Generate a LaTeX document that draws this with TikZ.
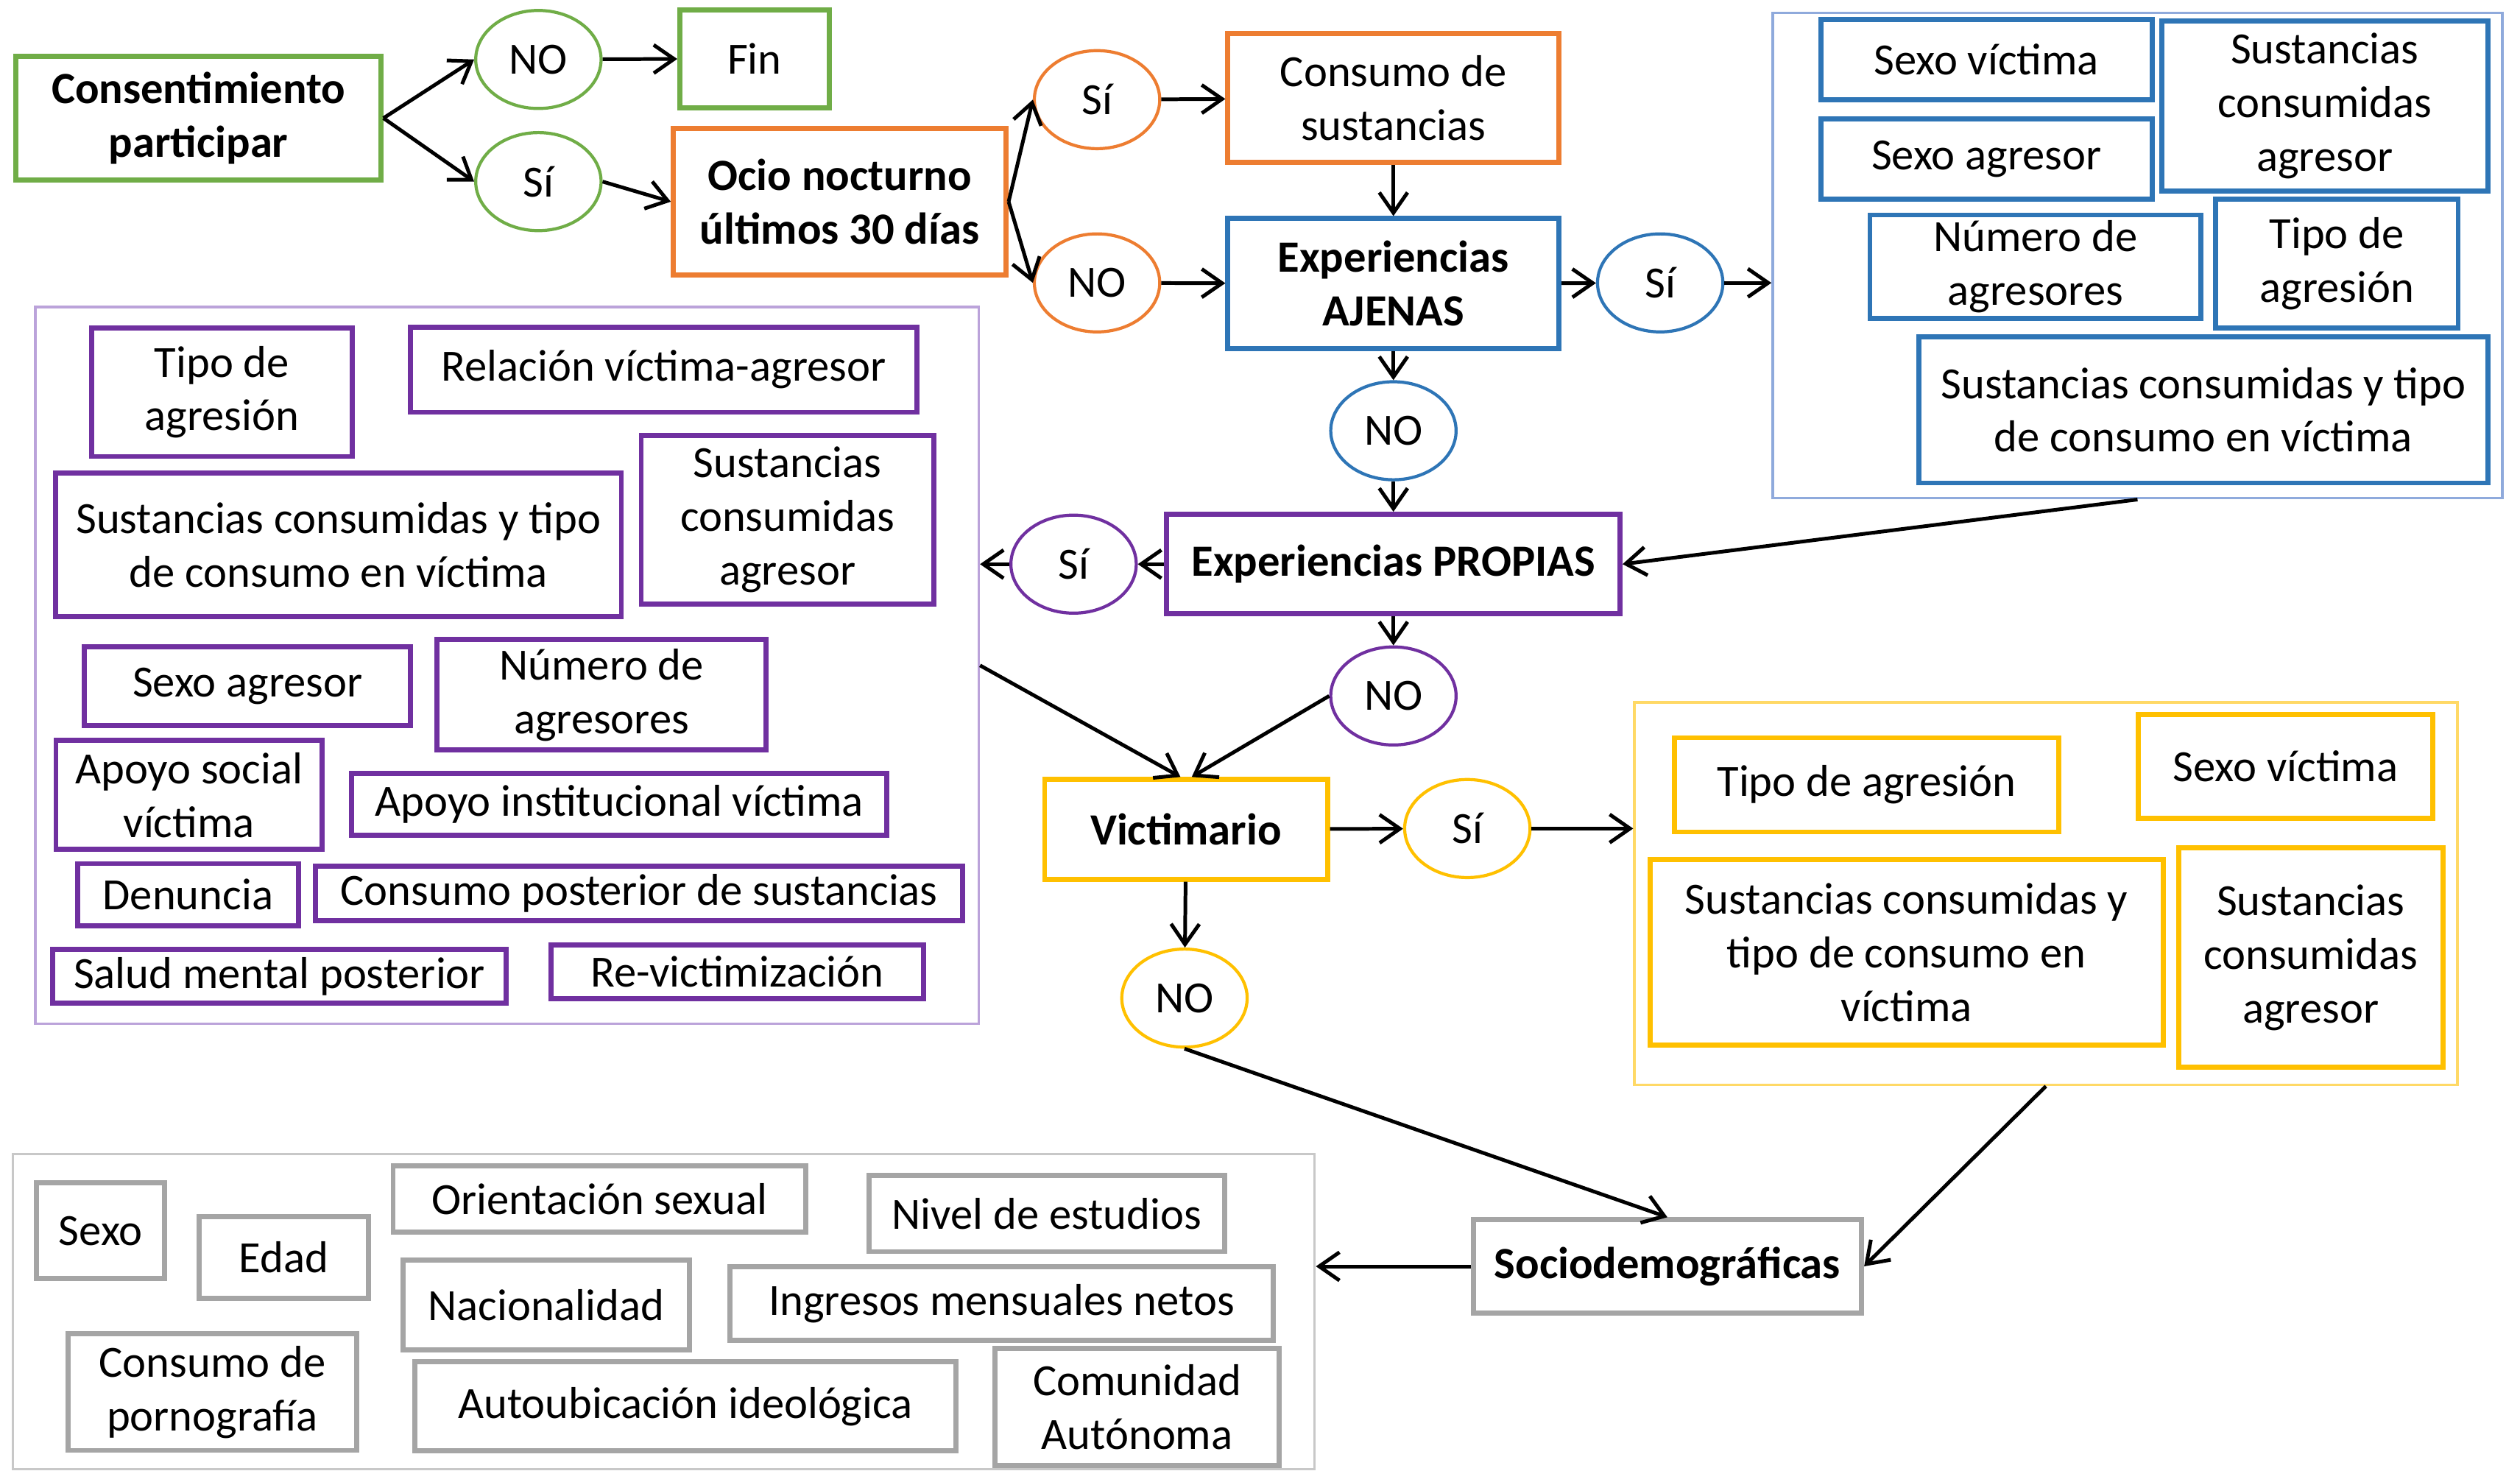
\documentclass[tikz,border=0pt]{standalone}
\usepackage{fontspec}
\setmainfont{Carlito}
\usetikzlibrary{shapes.geometric,arrows.meta}

\definecolor{cgreen}{HTML}{70AD47}
\definecolor{corange}{HTML}{ED7D31}
\definecolor{cblue}{HTML}{2E75B6}
\definecolor{cbluelight}{HTML}{8FAADC}
\definecolor{cpurple}{HTML}{7030A0}
\definecolor{cpurplelight}{HTML}{BBA3DA}
\definecolor{cyellow}{HTML}{FFC000}
\definecolor{cyellowlight}{HTML}{FFD966}
\definecolor{cgray}{HTML}{A5A5A5}
\definecolor{cgraylight}{HTML}{C8C8C8}

\begin{document}
\begin{tikzpicture}[
    >={Straight Barb[length=3.6pt,width=5pt]},
    every node/.style={font=\fontsize{7.9}{9.5}\selectfont, align=center, inner sep=1pt},
    boldtxt/.style={font=\fontsize{7.9}{9.5}\selectfont\bfseries},
    greenbox/.style={draw=cgreen, line width=0.9pt},
    orangebox/.style={draw=corange, line width=0.9pt},
    bluebox/.style={draw=cblue, line width=0.9pt},
    purplebox/.style={draw=cpurple, line width=0.9pt},
    yellowbox/.style={draw=cyellow, line width=0.9pt},
    graybox/.style={draw=cgray, line width=0.9pt},
    oval/.style={ellipse, line width=0.55pt, minimum width=0.78cm, minimum height=0.61cm, inner sep=0pt},
    holder/.style={line width=0.45pt},
    link/.style={->, line width=0.65pt}
]

    \useasboundingbox (0,0) rectangle (15.68,-9.15);

    \node[greenbox, boldtxt, minimum width=2.27cm, minimum height=0.77cm] (consent) at (1.235,-0.735) {Consentimiento\\participar};
    \node[oval, draw=cgreen] (noA) at (3.35,-0.37) {NO};
    \node[oval, draw=cgreen] (siA) at (3.35,-1.13) {Sí};
    \node[greenbox, minimum width=0.93cm, minimum height=0.61cm] (fin) at (4.695,-0.365) {Fin};

    \node[orangebox, boldtxt, minimum width=2.07cm, minimum height=0.91cm] (ocio) at (5.225,-1.255) {Ocio nocturno\\últimos 30 días};
    \node[oval, draw=corange] (siB) at (6.826,-0.62) {Sí};
    \node[oval, draw=corange] (noB) at (6.826,-1.76) {NO};
    \node[orangebox, minimum width=2.06cm, minimum height=0.80cm] (consumo) at (8.67,-0.61) {Consumo de\\sustancias};

    \node[bluebox, boldtxt, minimum width=2.06cm, minimum height=0.81cm] (ajenas) at (8.67,-1.765) {Experiencias\\AJENAS};
    \node[oval, draw=cblue] (siC) at (10.33,-1.76) {Sí};
    \node[oval, draw=cblue] (noC) at (8.67,-2.68) {NO};

    \node[holder, draw=cbluelight, minimum width=4.54cm, minimum height=3.02cm] (blueC) at (13.30,-1.59) {};
    \node[bluebox, minimum width=2.06cm, minimum height=0.50cm] (bSexoV) at (12.36,-0.37) {Sexo víctima};
    \node[bluebox, minimum width=2.03cm, minimum height=1.056cm] (bSustAg) at (14.465,-0.66) {Sustancias\\consumidas\\agresor};
    \node[bluebox, minimum width=2.06cm, minimum height=0.50cm] (bSexoA) at (12.36,-0.99) {Sexo agresor};
    \node[bluebox, minimum width=2.06cm, minimum height=0.62cm] (bNum) at (12.665,-1.66) {Número de\\agresores};
    \node[bluebox, minimum width=1.51cm, minimum height=0.80cm] (bTipo) at (14.54,-1.64) {Tipo de\\agresión};
    \node[bluebox, minimum width=3.54cm, minimum height=0.91cm] (bSustV) at (13.71,-2.55) {Sustancias consumidas y tipo\\de consumo en víctima};

    \node[purplebox, boldtxt, minimum width=2.82cm, minimum height=0.62cm] (propias) at (8.67,-3.51) {Experiencias PROPIAS};
    \node[oval, draw=cpurple] (siD) at (6.68,-3.51) {Sí};
    \node[oval, draw=cpurple] (noD) at (8.67,-4.33) {NO};

    \node[holder, draw=cpurplelight, minimum width=5.87cm, minimum height=4.46cm] (purpleC) at (3.155,-4.14) {};
    \node[purplebox, minimum width=1.62cm, minimum height=0.80cm] (pTipo) at (1.38,-2.44) {Tipo de\\agresión};
    \node[purplebox, minimum width=3.15cm, minimum height=0.53cm] (pRel) at (4.13,-2.30) {Relación víctima-agresor};
    \node[purplebox, minimum width=3.52cm, minimum height=0.89cm] (pSustV) at (2.106,-3.39) {Sustancias consumidas y tipo\\de consumo en víctima};
    \node[purplebox, minimum width=1.82cm, minimum height=1.05cm] (pSustAg) at (4.90,-3.234) {Sustancias\\consumidas\\agresor};
    \node[purplebox, minimum width=2.03cm, minimum height=0.49cm] (pSexoA) at (1.54,-4.27) {Sexo agresor};
    \node[purplebox, minimum width=2.045cm, minimum height=0.686cm] (pNum) at (3.743,-4.323) {Número de\\agresores};
    \node[purplebox, minimum width=1.656cm, minimum height=0.678cm] (pApoyoS) at (1.176,-4.946) {Apoyo social\\víctima};
    \node[purplebox, minimum width=3.33cm, minimum height=0.385cm] (pApoyoI) at (3.854,-5.005) {Apoyo institucional víctima};
    \node[purplebox, minimum width=1.377cm, minimum height=0.388cm] (pDen) at (1.17,-5.567) {Denuncia};
    \node[purplebox, minimum width=4.027cm, minimum height=0.34cm] (pConsPost) at (3.977,-5.56) {Consumo posterior de sustancias};
    \node[purplebox, minimum width=2.823cm, minimum height=0.335cm] (pSalud) at (1.739,-6.075) {Salud mental posterior};
    \node[purplebox, minimum width=2.319cm, minimum height=0.336cm] (pRevic) at (4.587,-6.046) {Re-victimización};

    \node[yellowbox, boldtxt, minimum width=1.76cm, minimum height=0.62cm] (victim) at (7.38,-5.16) {Victimario};
    \node[oval, draw=cyellow] (siE) at (9.13,-5.155) {Sí};
    \node[oval, draw=cyellow] (noE) at (7.37,-6.21) {NO};

    \node[holder, draw=cyellowlight, minimum width=5.12cm, minimum height=2.38cm] (yellowC) at (12.73,-5.56) {};
    \node[yellowbox, minimum width=2.39cm, minimum height=0.586cm] (yTipo) at (11.615,-4.883) {Tipo de agresión};
    \node[yellowbox, minimum width=1.83cm, minimum height=0.647cm] (ySexoV) at (14.221,-4.767) {Sexo víctima};
    \node[yellowbox, minimum width=3.194cm, minimum height=1.154cm] (ySustV) at (11.863,-5.927) {Sustancias consumidas y\\tipo de consumo en\\víctima};
    \node[yellowbox, minimum width=1.645cm, minimum height=1.365cm] (ySustAg) at (14.378,-5.9575) {Sustancias\\consumidas\\agresor};

    \node[graybox, boldtxt, minimum width=2.416cm, minimum height=0.58cm] (socio) at (10.375,-7.879) {Sociodemográficas};

    \node[holder, draw=cgraylight, minimum width=8.10cm, minimum height=1.96cm] (grayC) at (4.13,-8.16) {};
    \node[graybox, minimum width=0.797cm, minimum height=0.595cm] (gSexo) at (0.6265,-7.6575) {Sexo};
    \node[graybox, minimum width=1.056cm, minimum height=0.507cm] (gEdad) at (1.766,-7.8235) {Edad};
    \node[graybox, minimum width=2.567cm, minimum height=0.412cm] (gOrient) at (3.7295,-7.459) {Orientación sexual};
    \node[graybox, minimum width=2.21cm, minimum height=0.473cm] (gNivel) at (6.513,-7.5505) {Nivel de estudios};
    \node[graybox, minimum width=1.785cm, minimum height=0.558cm] (gNac) at (3.3985,-8.119) {Nacionalidad};
    \node[graybox, minimum width=3.38cm, minimum height=0.458cm] (gIngr) at (6.232,-8.111) {Ingresos mensuales netos};
    \node[graybox, minimum width=1.793cm, minimum height=0.725cm] (gPorn) at (1.3215,-8.6615) {Consumo de\\pornografía};
    \node[graybox, minimum width=3.365cm, minimum height=0.553cm] (gAuto) at (4.2645,-8.7505) {Autoubicación ideológica};
    \node[graybox, minimum width=1.77cm, minimum height=0.726cm] (gCom) at (7.075,-8.753) {Comunidad\\Autónoma};


      \draw[link] (consent.east) to (noA.west);
      \draw[link] (consent.east) to (siA.west);
      \draw[link] (noA) to (fin);
      \draw[link] (siA.east) to (ocio.west);

      \draw[link] (ocio.east) to (siB.west);
      \draw[link] (ocio.east) to (noB.west);
      \draw[link] (siB) to (consumo);
      \draw[link] (noB) to (ajenas);
      \draw[link] (consumo) to (ajenas);

      \draw[link] (ajenas) to (siC);
      \draw[link] (siC.east) to (siC.east -| blueC.west);
      \draw[link] (ajenas) to (noC);
      \draw[link] (noC) to (propias);
      \draw[link] (blueC.south) to (propias.east);

      \draw[link] (propias) to (siD);
      \draw[link] (siD.west) to (siD.west -| purpleC.east);
      \draw[link] (propias) to (noD);
      \draw[link] (noD.west) to ([xshift=1pt]victim.north);
      \draw[link] (purpleC.east) to ([xshift=-1pt]victim.north);

      \draw[link] (victim) to (siE);
      \draw[link] (siE.east) to (siE.east -| yellowC.west);
      \draw[link] (victim) to (noE);
      \draw[link] (noE.south) to (socio.north);
      \draw[link] (yellowC.south) to (socio.east);
      \draw[link] (socio.west) to (socio.west -| grayC.east);
  \end{tikzpicture}
\end{document}
